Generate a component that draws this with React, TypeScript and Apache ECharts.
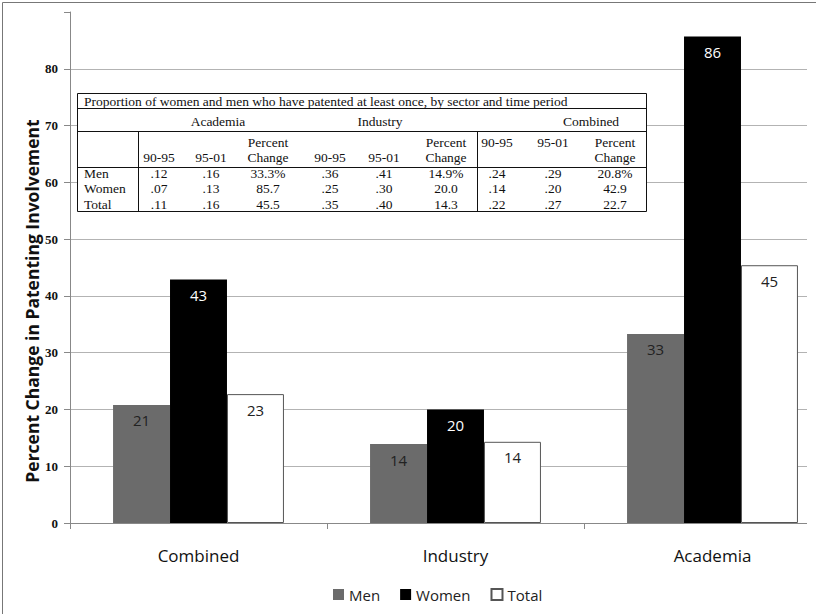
import React, { useEffect, useRef } from "react";
import * as echarts from "echarts";

const categories = ["Combined", "Industry", "Academia"];
const seriesNames = ["Men", "Women", "Total"];
const menValues = [20.8, 13.9, 33.3];
const womenValues = [42.9, 20.0, 85.7];
const totalValues = [22.7, 14.3, 45.4];
const yAxisTitle = "Percent Change in Patenting Involvement";

const tableTitle =
  "Proportion of women and men who have patented at least once, by sector and time period";
const tableSectors = ["Academia", "Industry", "Combined"];
const tablePeriods = ["90-95", "95-01"];
const tableRowLabels = ["Men", "Women", "Total"];
const tableRows = [
  [".12", ".16", "33.3%", ".36", ".41", "14.9%", ".24", ".29", "20.8%"],
  [".07", ".13", "85.7", ".25", ".30", "20.0", ".14", ".20", "42.9"],
  [".11", ".16", "45.5", ".35", ".40", "14.3", ".22", ".27", "22.7"],
];

// layout constants for the table
const T_LEFT = 77;
const T_RIGHT = 646;
const T_TOP = 93;
const T_TITLE_LINE = 108;
const T_SECTOR_LINE = 131;
const T_DATA_LINE = 167;
const T_BOTTOM = 211;
const T_VLINES = [138, 477];
const T_COLS = [159, 211, 268, 330, 384, 446, 497, 553, 615];
const T_SECTOR_X = [218, 380, 591];
const T_ROW_Y = [173, 188, 204];
const SERIF = "'Liberation Serif', 'Times New Roman', serif";

function buildTable(): any[] {
  const els: any[] = [];
  const lineStyle = { stroke: "#111", lineWidth: 1 };
  els.push({
    type: "rect",
    shape: { x: T_LEFT + 0.5, y: T_TOP + 0.5, width: T_RIGHT - T_LEFT, height: T_BOTTOM - T_TOP },
    style: { fill: "#fff", stroke: "#111", lineWidth: 1 },
    z: 100,
  });
  [T_TITLE_LINE, T_SECTOR_LINE, T_DATA_LINE].forEach((y) => {
    els.push({
      type: "line",
      shape: { x1: T_LEFT, y1: y + 0.5, x2: T_RIGHT, y2: y + 0.5 },
      style: lineStyle,
      z: 101,
    });
  });
  T_VLINES.forEach((x) => {
    els.push({
      type: "line",
      shape: { x1: x + 0.5, y1: T_SECTOR_LINE, x2: x + 0.5, y2: T_BOTTOM },
      style: lineStyle,
      z: 101,
    });
  });
  const txt = (text: string, x: number, y: number, align = "center") => ({
    type: "text",
    x,
    y,
    z: 102,
    style: {
      text,
      fill: "#111",
      font: `13.5px ${SERIF}`,
      textAlign: align,
      textVerticalAlign: "middle",
    },
  });
  els.push(txt(tableTitle, 84, 101, "left"));
  tableSectors.forEach((s, i) => els.push(txt(s, T_SECTOR_X[i], 121)));
  tableSectors.forEach((s, i) => {
    const isLast = i === tableSectors.length - 1;
    const py = isLast ? 142 : 157;
    els.push(txt(tablePeriods[0], T_COLS[i * 3], py));
    els.push(txt(tablePeriods[1], T_COLS[i * 3 + 1], py));
    els.push(txt("Percent", T_COLS[i * 3 + 2], 142));
    els.push(txt("Change", T_COLS[i * 3 + 2], 157));
  });
  tableRowLabels.forEach((r, ri) => {
    els.push(txt(r, 84, T_ROW_Y[ri], "left"));
    tableRows[ri].forEach((v, ci) => els.push(txt(v, T_COLS[ci], T_ROW_Y[ri])));
  });
  return els;
}

export default function App() {
  const ref = useRef<HTMLDivElement>(null);
  useEffect(() => {
    if (!ref.current) return;
    const chart = echarts.init(ref.current, null, { renderer: "svg" });
    const labelFont = "'Open Sans', 'Noto Sans', sans-serif";
    const mkSeries = (name: string, data: number[], color: string, labelColor: string, border?: string) => ({
      name,
      type: "bar",
      data,
      barGap: "0%",
      barCategoryGap: "33.5%",
      itemStyle: border
        ? { color, borderColor: border, borderWidth: 1 }
        : { color },
      label: {
        show: true,
        position: "insideTop",
        distance: 8,
        color: labelColor,
        fontFamily: labelFont,
        fontSize: 15,
        formatter: (p: any) => String(Math.round(p.value)),
      },
    });
    const splitColors = new Array(10).fill("#b3b3b3");
    splitColors[9] = "transparent";
    chart.setOption({
      animation: false,
      backgroundColor: "#fff",
      grid: {
        left: 70,
        width: 771,
        top: 12,
        bottom: 91,
        containLabel: false,
        outerBoundsMode: "none",
      },
      legend: {
        left: 328,
        top: 582,
        itemWidth: 11,
        itemHeight: 11,
        itemGap: 20,
        icon: "rect",
        data: seriesNames,
        textStyle: { fontFamily: labelFont, fontSize: 15, color: "#222" },
      },
      xAxis: {
        type: "category",
        data: categories,
        axisLine: { lineStyle: { color: "#888", width: 1 } },
        axisTick: { show: true, length: 6, lineStyle: { color: "#888" } },
        axisLabel: { fontFamily: labelFont, fontSize: 17, color: "#111", margin: 24 },
        splitLine: { show: false },
      },
      yAxis: {
        type: "value",
        min: 0,
        max: 90,
        interval: 10,
        axisLine: { show: true, lineStyle: { color: "#888", width: 1 } },
        axisTick: { show: true, length: 6, lineStyle: { color: "#888" } },
        axisLabel: {
          fontFamily: SERIF,
          fontWeight: "bold",
          fontSize: 13,
          color: "#111",
          margin: 12,
          formatter: (v: number) => (v === 90 ? "" : String(v)),
        },
        splitLine: { show: true, lineStyle: { color: splitColors, width: 1 } },
      },
      series: [
        mkSeries(seriesNames[0], menValues, "#6b6b6b", "#222"),
        mkSeries(seriesNames[1], womenValues, "#000000", "#ffffff"),
        mkSeries(seriesNames[2], totalValues, "#ffffff", "#222", "#555"),
      ],
      graphic: [
        {
          type: "rect",
          shape: { x: 807, y: 0, width: 20, height: 540 },
          style: { fill: "#fff" },
          z: 90,
        },
        {
          type: "line",
          shape: { x1: 2.5, y1: 2.5, x2: 2.5, y2: 614 },
          style: { stroke: "#777", lineWidth: 1 },
          z: 90,
        },
        {
          type: "line",
          shape: { x1: 2.5, y1: 2.5, x2: 816, y2: 2.5 },
          style: { stroke: "#777", lineWidth: 1 },
          z: 90,
        },
        {
          type: "text",
          x: 32,
          y: 301,
          rotation: Math.PI / 2,
          z: 90,
          style: {
            text: yAxisTitle,
            font: `bold 17.5px ${labelFont}`,
            fill: "#111",
            textAlign: "center",
            textVerticalAlign: "middle",
          },
        },
        ...buildTable(),
      ],
    });
    return () => chart.dispose();
  }, []);
  return (
    <div
      ref={ref}
      style={{ position: "fixed", left: 0, top: 0, width: 816, height: 614, background: "#fff" }}
    />
  );
}
